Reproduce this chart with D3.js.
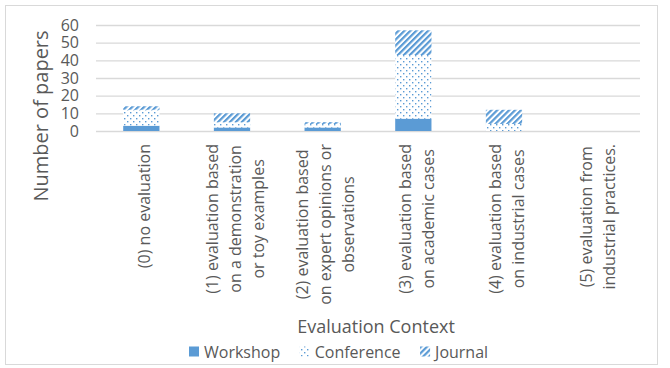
<!DOCTYPE html>
<html>
<head>
<meta charset="utf-8">
<script src="https://cdn.jsdelivr.net/npm/d3@7"></script>
<style>
  html, body { margin: 0; padding: 0; background: #fff; }
  svg { display: block; font-family: "Open Sans", "Noto Sans", sans-serif; }
</style>
</head>
<body>
<svg id="chart" width="670" height="368"></svg>
<script>
// Evaluation context categories (tick labels, one entry per wrapped line)
const categories = [
  ["(0) no evaluation"],
  ["(1) evaluation based", "on a demonstration", "or toy examples"],
  ["(2) evaluation based", "on expert opinions or", "observations"],
  ["(3) evaluation based", "on academic cases"],
  ["(4) evaluation based", "on industrial cases"],
  ["(5) evaluation from", "industrial practices."]
];
const seriesNames = ["Workshop", "Conference", "Journal"];
const workshop   = [3, 2, 2, 7, 0, 0];
const conference = [9, 3, 2, 36, 4, 0];
const journal    = [2, 5, 1, 14, 8, 0];
const yTicks = [0, 10, 20, 30, 40, 50, 60];

const blue = "#5b9bd5";
const textColor = "#595959";
const gridColor = "#d9d9d9";

const svg = d3.select("#chart");

// Fill patterns: dotted for conference, wide upward diagonal for journal
const defs = svg.append("defs");
const dots = defs.append("pattern")
  .attr("id", "dots").attr("patternUnits", "userSpaceOnUse")
  .attr("width", 6).attr("height", 6);
dots.append("rect").attr("width", 6).attr("height", 6).attr("fill", "#fff");
dots.append("rect").attr("x", 1).attr("y", 1).attr("width", 1.4).attr("height", 1.4).attr("fill", blue);
dots.append("rect").attr("x", 4).attr("y", 4).attr("width", 1.4).attr("height", 1.4).attr("fill", blue);

const hatch = defs.append("pattern")
  .attr("id", "hatch").attr("patternUnits", "userSpaceOnUse")
  .attr("width", 4.2).attr("height", 4.2)
  .attr("patternTransform", "rotate(45)");
hatch.append("rect").attr("width", 4.2).attr("height", 4.2).attr("fill", "#fff");
hatch.append("rect").attr("width", 2.2).attr("height", 4.2).attr("fill", blue);

const fills = ["url(#solid)", "url(#dots)", "url(#hatch)"];
const fillFor = i => i === 0 ? blue : fills[i];

// Outer chart border
svg.append("rect")
  .attr("x", 5.5).attr("y", 5.5).attr("width", 652).attr("height", 359)
  .attr("fill", "#fff").attr("stroke", gridColor).attr("stroke-width", 1);

const plot = { left: 96, right: 640, top: 25, bottom: 131 };

const x = d3.scaleBand()
  .domain(d3.range(categories.length))
  .range([plot.left, plot.right])
  .paddingInner(0.6).paddingOuter(0.3);

const y = d3.scaleLinear().domain([0, 60]).range([plot.bottom, plot.top]);

// Gridlines
const grid = svg.append("g")
  .attr("transform", `translate(${plot.left},0)`)
  .call(d3.axisLeft(y).tickValues(yTicks).tickSize(-(plot.right - plot.left)).tickFormat(""));
grid.select(".domain").remove();
grid.selectAll("line").attr("stroke", gridColor).attr("stroke-width", 1.3);

// Y tick labels
const yAxis = svg.append("g")
  .attr("transform", `translate(${plot.left - 17},0)`)
  .call(d3.axisLeft(y).tickValues(yTicks).tickSize(0).tickPadding(0));
yAxis.select(".domain").remove();
yAxis.selectAll("text")
  .attr("fill", textColor).attr("font-size", 16)
  .attr("font-family", "'Open Sans', sans-serif");

// Stacked bars
const rows = categories.map((c, i) => ({
  i, Workshop: workshop[i], Conference: conference[i], Journal: journal[i]
}));
const stacked = d3.stack().keys(seriesNames)(rows);

svg.append("g").selectAll("g")
  .data(stacked)
  .join("g")
  .attr("fill", (d, k) => fillFor(k))
  .selectAll("rect")
  .data(d => d)
  .join("rect")
  .attr("x", d => x(d.data.i))
  .attr("width", x.bandwidth())
  .attr("y", d => y(d[1]))
  .attr("height", d => y(d[0]) - y(d[1]));

// Rotated, wrapped category labels (top aligned, lines centered)
const lineGap = 23;
const labels = svg.append("g")
  .attr("font-size", 16).attr("fill", textColor);
categories.forEach((lines, i) => {
  const cx = x(i) + x.bandwidth() / 2 + 4;
  const g = labels.append("g");
  const texts = lines.map((ln, j) => g.append("text")
    .attr("text-anchor", "middle")
    .attr("y", (j - (lines.length - 1) / 2) * lineGap)
    .attr("dy", "0.3em")
    .text(ln));
  const maxLen = d3.max(texts, t => t.node().getComputedTextLength());
  texts.forEach(t => t.attr("x", -maxLen / 2));
  g.attr("transform", `translate(${cx},144) rotate(-90)`);
});

// Axis titles
svg.append("text")
  .attr("x", 376).attr("y", 333)
  .attr("text-anchor", "middle")
  .attr("font-size", 18).attr("fill", textColor)
  .text("Evaluation Context");

svg.append("text")
  .attr("transform", "translate(48,116) rotate(-90)")
  .attr("text-anchor", "middle")
  .attr("font-size", 20).attr("fill", textColor)
  .text("Number of papers");

// Legend
const legend = svg.append("g").attr("font-size", 16).attr("fill", textColor);
let lx = 189;
seriesNames.forEach((name, k) => {
  legend.append("rect")
    .attr("x", lx).attr("y", 346.5).attr("width", 10).attr("height", 10)
    .attr("fill", fillFor(k));
  const t = legend.append("text")
    .attr("x", lx + 15).attr("y", 357.5)
    .text(name);
  lx += 15 + t.node().getComputedTextLength() + 19.5;
});
</script>
</body>
</html>
